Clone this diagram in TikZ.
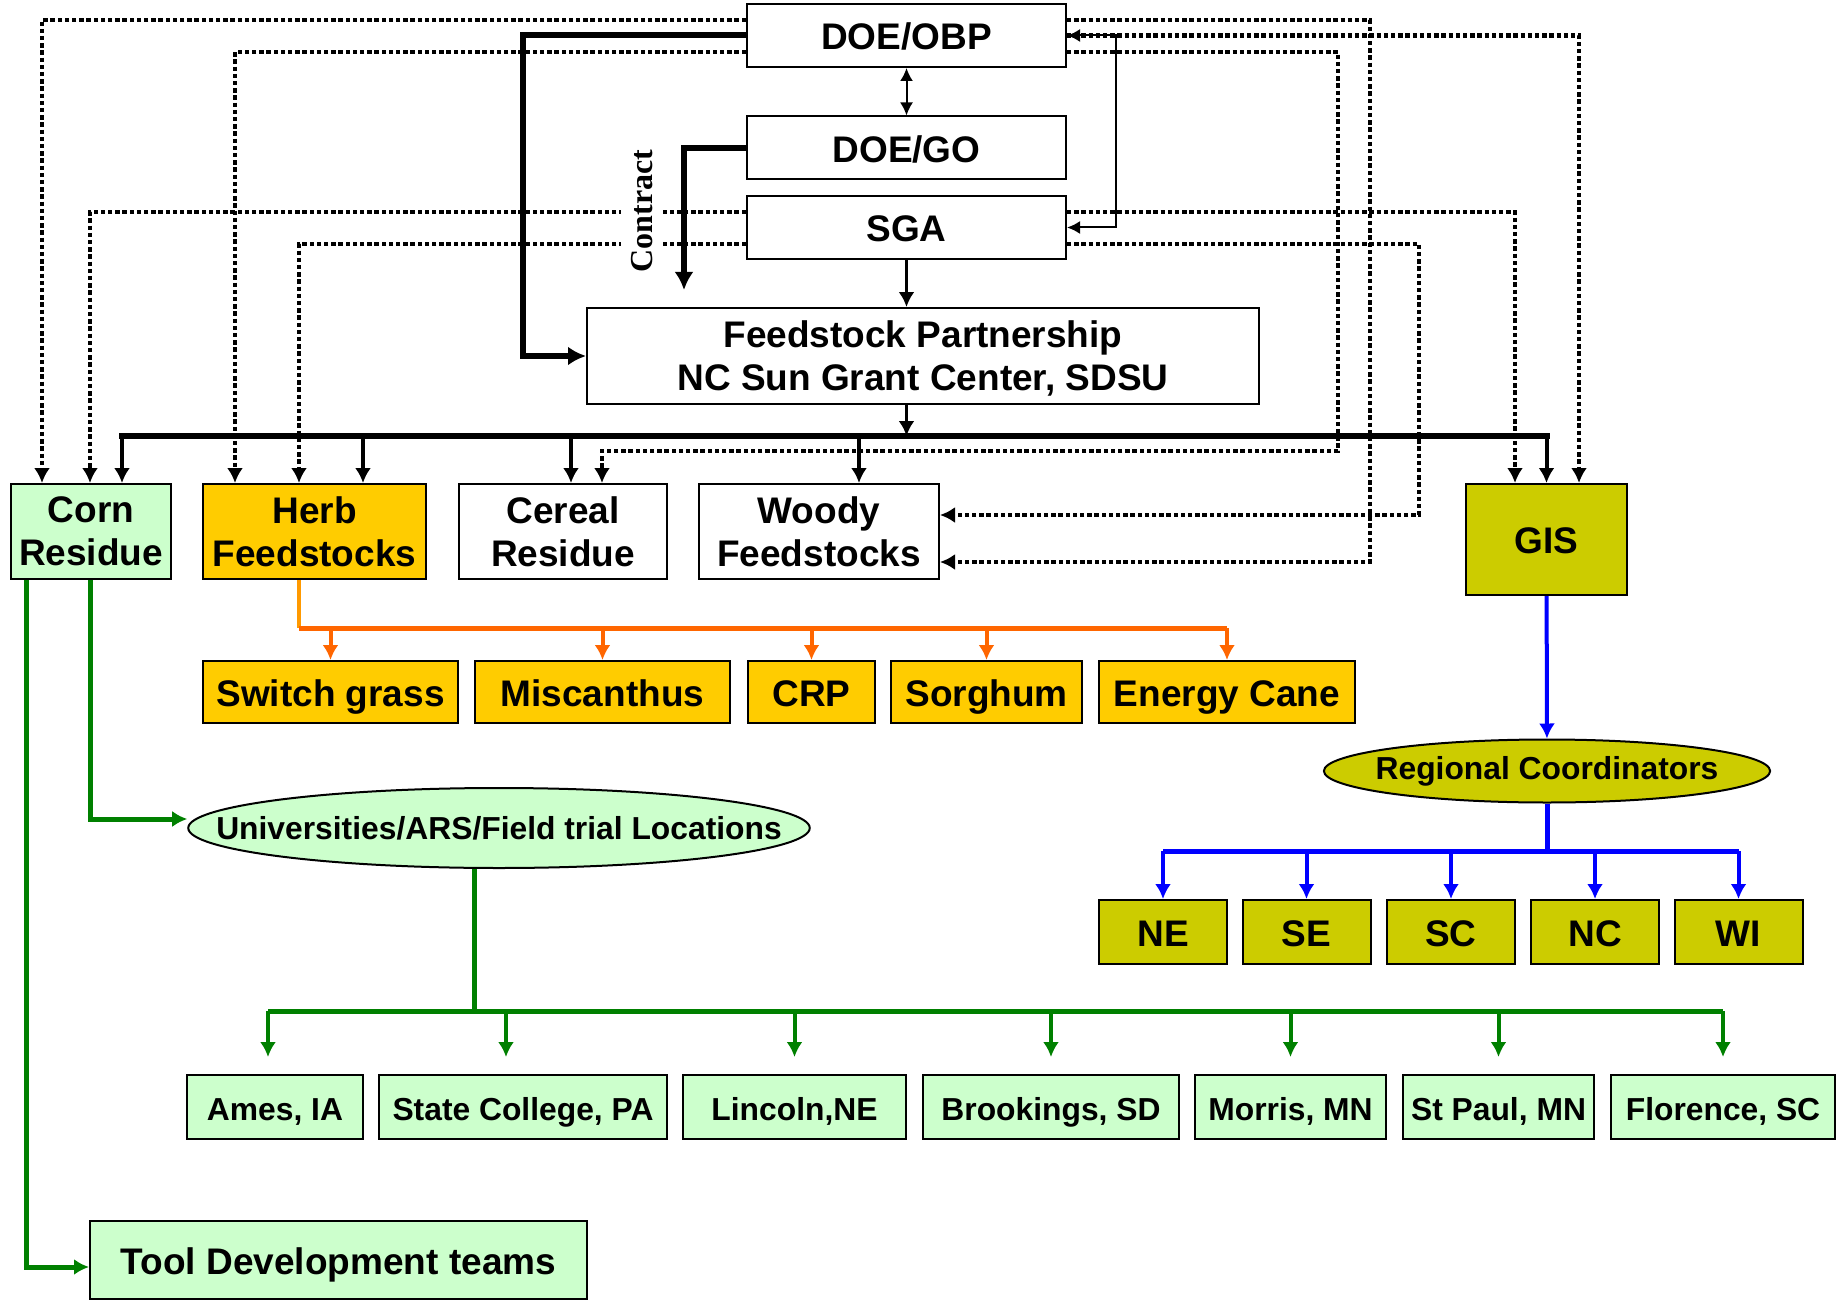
\documentclass[tikz,border=0pt]{standalone}
\usepackage{fontspec}
\setmainfont{Liberation Sans}
\newfontfamily\contractfont{Liberation Serif}
\usetikzlibrary{arrows.meta,shapes.geometric}

\definecolor{paleGreen}{HTML}{CCFFCC}
\definecolor{herbGold}{HTML}{FFCC00}
\definecolor{gisOlive}{HTML}{CCCC00}
\definecolor{fieldGreen}{HTML}{008000}
\definecolor{caneOrange}{HTML}{FF6600}
\definecolor{stemOrange}{HTML}{FF9900}

\begin{document}
\begin{tikzpicture}[x=0.5pt,y=-0.5pt,
    big/.style={font=\bfseries\fontsize{18.5}{21}\selectfont},
    small/.style={font=\bfseries\fontsize{15.9}{18}\selectfont},
    oneline/.style={text height=14.4pt,text depth=0pt},
    box/.style={draw,line width=1pt,align=center,inner sep=0pt},
    tip/.style={-{Latex[length=7.5pt,width=8pt]}},
    dotline/.style={draw,line width=2.2pt,dash pattern=on 2.2pt off 1.4pt,tip},
    branch/.style={line width=2pt,-{Latex[length=7.5pt,width=8pt]}}]
    \useasboundingbox (0,0) rectangle (1841,1300);

    % offices
    \begin{scope}[every node/.style={box,big,oneline,fill=white,minimum width=159.5pt,minimum height=31.5pt}]
        \node (obp) at (906.5,35.5) {DOE/OBP};
        \node (go) at (906.5,148) {DOE/GO};
        \node (sga) at (906.5,227.5) {SGA};
    \end{scope}
    \node[box,big,fill=white,text depth=-0.5pt,minimum width=336pt,minimum height=48pt] (fp) at (923,356)
        {Feedstock Partnership\\[0.5pt]NC Sun Grant Center, SDSU};

    % feedstock groups
    \begin{scope}[every node/.style={box,big,minimum height=47.5pt}]
        \node[fill=paleGreen,minimum width=80pt] (corn) at (91,531.5) {Corn\\[0.5pt]Residue};
        \node[fill=herbGold,minimum width=111.5pt] (herb) at (314.5,531.5) {Herb\\[0.5pt]Feedstocks};
        \node[fill=white,minimum width=104pt] (cereal) at (563,531.5) {Cereal\\[0.5pt]Residue};
        \node[fill=white,minimum width=120pt] (woody) at (819,531.5) {Woody\\[0.5pt]Feedstocks};
        \node[fill=gisOlive,oneline,minimum width=80.5pt,minimum height=55.5pt] (gis) at (1546.5,539.5) {GIS};
    \end{scope}

    % herbaceous crops
    \begin{scope}[every node/.style={box,big,oneline,fill=herbGold,minimum height=31pt}]
        \node[minimum width=127.5pt] (switch) at (330.5,692) {Switch grass};
        \node[minimum width=127.5pt] (misc) at (602.5,692) {Miscanthus};
        \node[minimum width=63.5pt] (crp) at (811.5,692) {CRP};
        \node[minimum width=95.5pt] (sorghum) at (986.5,692) {Sorghum};
        \node[minimum width=128pt] (cane) at (1227,692) {Energy Cane};
    \end{scope}

    % regions
    \node[ellipse,draw,line width=1pt,fill=gisOlive,small,inner xsep=-6.8pt,inner ysep=0pt,
        minimum width=220pt,minimum height=31.5pt] (regional) at (1547,771) {Regional Coordinators};
    \begin{scope}[every node/.style={box,big,oneline,fill=gisOlive,minimum width=64pt,minimum height=32pt}]
        \node (ne) at (1163,932) {NE};
        \node (se) at (1306.5,932) {SE};
        \node (sc) at (1451,932) {SC};
        \node (nc) at (1595,932) {NC};
        \node (wi) at (1738.5,932) {WI};
    \end{scope}

    % field sites
    \node[ellipse,draw,line width=1pt,fill=paleGreen,small,inner xsep=-31.5pt,inner ysep=0pt,
        minimum width=305pt,minimum height=40pt] (univ) at (499,828) {Universities/ARS/Field trial Locations};
    \begin{scope}[every node/.style={box,small,fill=paleGreen,minimum height=32pt,text height=13.4pt,text depth=0pt}]
        \node[minimum width=88pt] (ames) at (275,1107) {Ames, IA};
        \node[minimum width=144pt] (state) at (523,1107) {State College, PA};
        \node[minimum width=111.5pt] (lincoln) at (794.5,1107) {Lincoln,NE};
        \node[minimum width=128pt] (brookings) at (1051,1107) {Brookings, SD};
        \node[minimum width=95.5pt] (morris) at (1290.5,1107) {Morris, MN};
        \node[minimum width=95.5pt] (stpaul) at (1498.5,1107) {St Paul, MN};
        \node[minimum width=112pt] (florence) at (1723,1107) {Florence, SC};
    \end{scope}
    \node[box,big,oneline,fill=paleGreen,minimum width=248.5pt,minimum height=39pt] (tool) at (338.5,1260) {Tool Development teams};

    \coordinate (bus) at (906.5,436);
    \coordinate (contractEnd) at (684,290);
    \coordinate (herbBus) at (299,628);
    \coordinate (regionBus) at (1547,851);
    \coordinate (siteBus) at (474,1011);

    % dotted reporting lines
    \draw[dotline] (obp.west |- 0,20) -| (corn.north -| 42,0);
    \draw[dotline] (obp.west |- 0,52) -| (herb.north -| 235,0);
    \draw[dotline] (sga.west |- 0,212) -| (corn.north -| 90,0);
    \draw[dotline] (sga.west |- 0,244) -| (herb.north -| 299,0);
    \draw[dotline] (obp.east |- 0,20) -| (1370,562) -- (woody.east |- 0,562);
    \draw[dotline] (obp.east) -| (gis.north -| 1579,0);
    \draw[dotline] (obp.east |- 0,52) -| (1338,451) -| (cereal.north -| 602,0);
    \draw[dotline] (sga.east |- 0,212) -| (gis.north -| 1515,0);
    \draw[dotline] (sga.east |- 0,244) -| (1419,515) -- (woody.east |- 0,515);

    \node[rotate=90,fill=white,inner xsep=1pt,inner ysep=5pt,
        font=\contractfont\bfseries\fontsize{16}{18}\selectfont] (contract) at (642,211) {Contract};

    % solid links
    \draw[line width=1pt,{Latex[length=6.5pt,width=6.5pt]}-{Latex[length=6.5pt,width=6.5pt]}] (obp) -- (go);
    \draw[line width=1pt,{Latex[length=6.5pt,width=6.5pt]}-{Latex[length=6.5pt,width=6.5pt]}]
        (sga.east) -- ++(49,0) |- (obp.east);
    \draw[line width=1.5pt,tip] (sga) -- (sga.south |- fp.north);
    \draw[line width=1.5pt,tip] (fp.south -| obp.south) -- (bus);
    \draw[line width=3pt,-{Latex[length=9pt,width=9.5pt]}] (obp.west) -- ++(-223,0) |- (fp.west);
    \draw[line width=3pt,-{Latex[length=9pt,width=9.5pt]}] (go.west) -| (contractEnd);
    \draw[line width=3pt,line cap=rect] (bus -| 122,0) -- (bus -| gis.north);
    \begin{scope}[every edge/.style={draw,line width=2pt,tip}]
        \path (bus -| 122,0) edge (corn.north -| 122,0)
              (bus -| 363,0) edge (herb.north -| 363,0)
              (bus -| 571,0) edge (cereal.north -| 571,0)
              (bus -| 859,0) edge (woody.north -| 859,0)
              (bus -| gis.north) edge (gis.north);
    \end{scope}

    % herbaceous branch
    \draw[stemOrange,line width=2pt] (herb.south -| herbBus) -- (herbBus);
    \draw[caneOrange,line width=2.5pt] (herbBus) -- (herbBus -| cane.north);
    \begin{scope}[every edge/.style={draw,caneOrange,branch}]
        \path (herbBus -| switch.north) edge (switch.north)
              (herbBus -| misc.north) edge (misc.north)
              (herbBus -| crp.north) edge (crp.north)
              (herbBus -| sorghum.north) edge (sorghum.north)
              (herbBus -| cane.north) edge (cane.north);
    \end{scope}

    % regional branch
    \draw[blue,branch] (gis) -- (regional);
    \draw[blue,line width=2.5pt] (regional.south) -- (regionBus);
    \draw[blue,line width=2.5pt] (regionBus -| ne.north) -- (regionBus -| wi.north);
    \begin{scope}[every edge/.style={draw,blue,branch}]
        \path (regionBus -| ne.north) edge (ne.north)
              (regionBus -| se.north) edge (se.north)
              (regionBus -| sc.north) edge (sc.north)
              (regionBus -| nc.north) edge (nc.north)
              (regionBus -| wi.north) edge (wi.north);
    \end{scope}

    % field trial branch
    \draw[fieldGreen,line width=2.5pt,-{Latex[length=7.5pt,width=8pt]}]
        (corn.south -| 90,0) |- ([yshift=4.5pt]univ.west);
    \draw[fieldGreen,line width=2.5pt,-{Latex[length=7.5pt,width=8pt]}]
        (corn.south -| 26,0) |- ([yshift=-3.5pt]tool.west);
    \draw[fieldGreen,line width=2.5pt] (univ.south -| siteBus) -- (siteBus);
    \draw[fieldGreen,line width=2.5pt] (siteBus -| 268,0) -- (siteBus -| florence.north);
    \begin{scope}[every edge/.style={draw,fieldGreen,branch,shorten >=8.5pt}]
        \path (siteBus -| 268,0) edge (ames.north -| 268,0)
              (siteBus -| 506,0) edge (state.north -| 506,0)
              (siteBus -| lincoln.north) edge (lincoln.north)
              (siteBus -| brookings.north) edge (brookings.north)
              (siteBus -| morris.north) edge (morris.north)
              (siteBus -| stpaul.north) edge (stpaul.north)
              (siteBus -| florence.north) edge (florence.north);
    \end{scope}
\end{tikzpicture}
\end{document}
